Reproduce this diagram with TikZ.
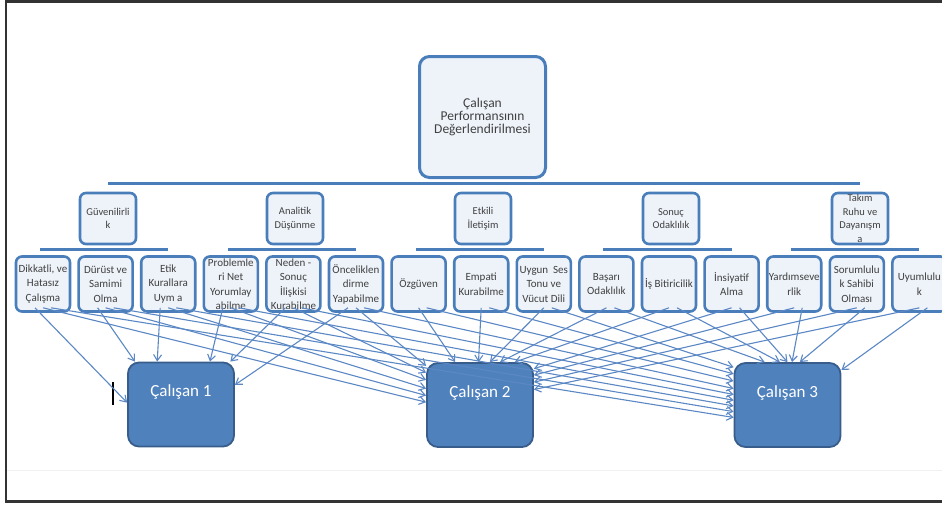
\documentclass[tikz,border=0pt]{standalone}
\usepackage{fontspec}
\setmainfont{Carlito}
\usetikzlibrary{arrows.meta}
\definecolor{boxblue}{HTML}{4A7EBB}
\definecolor{boxfill}{HTML}{EEF3FA}
\definecolor{empfill}{HTML}{4F81BD}
\definecolor{empline}{HTML}{385D8A}
\definecolor{arrblue}{HTML}{5B88C4}
\definecolor{txtgray}{HTML}{404040}
\tikzset{
  crit/.style={draw=boxblue, line width=2.6pt, fill=boxfill, rounded corners=6pt,
    minimum width=54pt, minimum height=55pt, inner sep=0pt},
  crittext/.style={font=\fontsize{11}{14.5}\selectfont, text=txtgray, align=center, inner sep=0pt},
  group/.style={crit, minimum width=56pt, minimum height=51pt},
  grouptext/.style={font=\fontsize{10.5}{13.5}\selectfont, text=txtgray, align=center, inner sep=0pt},
  rootbox/.style={crit, line width=3pt, rounded corners=10pt, minimum width=126pt, minimum height=121pt,
    font=\fontsize{13.5}{12.7}\selectfont, text=txtgray, align=center},
  emp/.style={fill=empfill, draw=empline, line width=1.8pt, rounded corners=11pt,
    minimum width=106pt, minimum height=84pt, inner sep=0pt},
  emptext/.style={font=\fontsize{17}{20}\selectfont, text=white, inner sep=0pt, yshift=12pt},
  bar/.style={draw=boxblue, line width=3.2pt},
  arr/.style={draw=arrblue, line width=1.1pt, -{Straight Barb[length=6pt,width=8pt]}},
  frame/.style={draw=black!80, line width=2.4pt}
}
\begin{document}
\begin{tikzpicture}[x=1pt,y=-1pt]
  \useasboundingbox (0,0) rectangle (942,507);
  % frame of the screenshot
  \draw[frame] (942,1.5) -- (6,1.5) -- (6,501.5) -- (942,501.5);
  \draw[black!6, line width=1pt] (7,470) -- (942,470);

  % top of the tree
  \node[rootbox] (root) at (482.5,117) {Çalışan\\Performansının\\Değerlendirilmesi};

  % second level
  \foreach \x/\t [count=\i] in {108/{Güvenilirli\\k}, 295/{Analitik\\Düşünme}, 483/{Etkili\\İletişim},
      671/{Sonuç\\Odaklılık}, 860/{Takım\\Ruhu ve\\Dayanışm\\a}}
    \node[group, label={[grouptext]center:\t}] (g\i) at (\x,218.5) {};
  \draw[bar] ([yshift=8pt]g1.north) -- ([yshift=8pt]g5.north);

  % criteria
  \foreach \t [count=\i] in {{Dikkatli, ve\\Hatasız\\Çalışma}, {Dürüst ve\\Samimi\\Olma}, {Etik\\Kurallara\\Uym a},
      {Problemle\\ri Net\\Yorumlay\\abilme}, {Neden -\\Sonuç\\İlişkisi\\Kurabilme}, {Önceliklen\\dirme\\Yapabilme},
      {Özgüven}, {Empati\\Kurabilme}, {Uygun~ Ses\\Tonu ve\\Vücut Dili},
      {Başarı\\Odaklılık}, {İş Bitiricilik}, {İnsiyatif\\Alma},
      {Yardımseve\\rlik}, {Sorumlulu\\k Sahibi\\Olması}, {Uyumlulu\\k}}
    \node[crit, label={[crittext]center:\t}] (b\i) at ({43+62.6*(\i-1)},284) {};
  \foreach \a/\b in {1/3, 4/6, 7/9, 10/12, 13/15}
    \draw[bar] ([xshift=-3pt,yshift=6pt]b\a.north) -- ([yshift=6pt]b\b.north);

  % employees
  \node[emp, label={[emptext]center:Çalışan 1}] (e1) at (181,404.5) {};
  \node[emp, label={[emptext]center:Çalışan 2}] (e2) at (480,405) {};
  \node[emp, label={[emptext]center:Çalışan 3}] (e3) at (787.5,405) {};
  \draw[line width=2pt] (113,382) -- (113,405);

  % criteria to employees
  \foreach \i/\a in {1/178, 2/137, 3/119, 4/56, 5/41, 6/20}
    \draw[arr] ([xshift=-8pt,yshift=5pt]b\i.south) -- (e1.\a);
  \foreach \i/\a in {1/177, 2/170, 3/163, 4/155, 5/149, 6/144, 7/120, 8/92, 9/77,
      10/65, 11/51, 12/34, 13/29, 14/23, 15/16}
    \draw[arr] ([yshift=5pt]b\i.south) -- (e2.\a);
  \foreach \i/\a in {1/193, 2/187, 3/181, 4/175, 5/169, 6/163, 7/156, 8/150, 9/145,
      10/118, 11/100, 12/90, 13/84, 14/74, 15/33}
    \draw[arr] ([xshift=8pt,yshift=5pt]b\i.south) -- (e3.\a);
\end{tikzpicture}
\end{document}
